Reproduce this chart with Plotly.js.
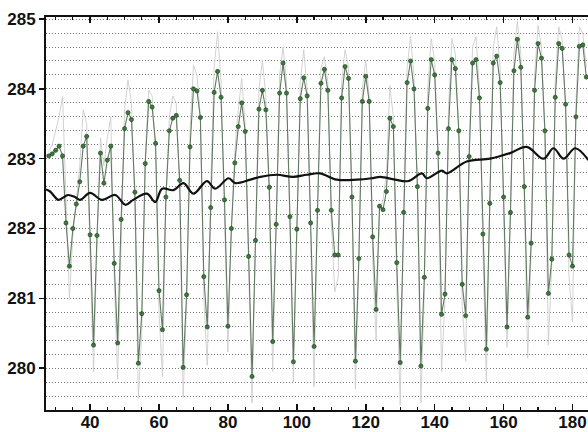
<!DOCTYPE html>
<html>
<head>
<meta charset="utf-8">
<script src="https://cdn.plot.ly/plotly-3.0.1.min.js"></script>
<style>html,body{margin:0;padding:0;background:#fff;}#chart{width:588px;height:432px;}</style>
</head>
<body>
<div id="chart"></div>
<script>
// x positions of the sampled series (integer steps)
var xStart = 28, xEnd = 184;
var sampleX = [];
for (var i = xStart; i <= xEnd; i++) sampleX.push(i);

// green series with markers (x = 28 .. 184)
var greenY = [
283.04,283.07,283.12,283.18,283.04,282.08,281.46,282.00,282.35,282.67,
283.18,283.32,281.91,280.33,281.90,283.08,282.65,282.98,283.18,281.50,
280.36,282.13,283.43,283.66,283.56,282.52,280.07,280.78,282.93,283.82,
283.74,283.22,281.11,280.55,282.45,283.40,283.58,283.62,282.69,280.01,
281.05,283.17,284.00,283.97,283.59,281.31,280.59,282.30,283.95,284.25,
283.88,282.41,280.60,282.00,282.94,283.46,283.80,283.39,281.60,279.88,
281.83,283.71,283.98,283.70,282.59,280.38,282.06,283.94,284.37,283.94,
282.17,280.09,281.99,283.86,284.16,283.90,282.08,280.31,282.26,284.08,
284.28,283.98,282.26,281.62,281.62,283.87,284.32,284.15,282.45,280.10,
281.57,283.82,284.18,283.82,281.88,280.84,282.32,282.27,282.53,283.58,
283.46,281.51,280.08,282.23,284.09,284.40,284.00,282.60,280.03,281.30,
283.72,284.42,284.20,283.08,280.77,281.06,283.43,284.42,284.29,283.40,
281.20,280.75,283.03,284.37,284.42,283.87,281.92,280.27,282.36,284.37,
284.47,284.09,282.45,280.59,282.23,284.26,284.71,284.31,282.60,280.73,
281.79,283.98,284.65,284.44,283.40,281.07,281.56,283.88,284.65,284.58,
283.78,281.62,281.46,283.60,284.61,284.63,284.17
];

// light gray series (x = 28 .. 184)
var grayY = [
283.10,283.20,283.40,283.60,283.89,282.30,281.00,281.90,282.40,282.90,
283.70,283.50,281.60,279.95,281.80,283.30,282.90,283.30,283.60,281.30,
279.84,282.00,283.70,284.13,283.80,282.30,279.57,280.50,283.00,283.98,
283.90,283.10,280.80,279.88,282.40,283.60,283.90,283.80,282.50,279.58,
280.90,283.40,284.34,284.20,283.60,281.00,280.04,282.60,284.30,284.82,
284.10,282.20,280.23,282.00,283.10,283.70,284.15,283.50,281.30,279.50,
281.80,284.00,284.41,283.90,282.40,279.95,282.10,284.20,284.60,284.10,
282.00,279.80,281.90,284.10,284.56,284.00,281.90,279.73,282.30,284.30,
284.46,284.10,282.10,281.09,281.30,284.10,284.56,284.30,282.30,279.70,
281.50,284.00,284.41,283.90,281.60,280.40,282.30,282.40,282.80,284.05,
283.60,281.20,279.47,282.30,284.30,284.75,284.20,282.50,279.50,281.10,
284.00,284.72,284.40,283.00,279.95,281.00,283.70,284.72,284.50,283.40,
280.90,280.10,283.20,284.60,284.75,284.00,281.70,279.80,282.40,284.60,
284.89,284.30,282.30,280.30,282.30,284.50,284.97,284.50,282.50,280.14,
281.70,284.20,284.91,284.60,283.30,280.33,281.50,284.10,284.89,284.70,
283.70,281.30,280.66,283.80,284.89,284.80,284.30
];

// black smooth line
var blackX = [27.2,28.4,30.8,32.1,33.6,35.6,37.1,40.0,43.4,47.3,50.2,52.5,56.5,58.9,60.9,64.2,67.1,70.0,73.9,76.3,80.2,82.1,86.5,89.4,94.2,98.9,102.9,106.7,111.6,117.4,121.7,124.2,128.5,132.4,136.3,137.7,142.1,143.5,149.3,156.1,161.9,166.7,171.6,174.5,177.4,180.8,184.6];
var blackY = [282.56,282.53,282.41,282.44,282.48,282.45,282.41,282.51,282.41,282.48,282.34,282.41,282.50,282.38,282.57,282.55,282.65,282.50,282.68,282.57,282.72,282.65,282.70,282.74,282.77,282.74,282.77,282.79,282.70,282.70,282.72,282.74,282.70,282.68,282.79,282.72,282.83,282.79,282.96,283.00,283.08,283.17,283.00,283.15,283.00,283.15,282.98];

var xTickVals = [40,60,80,100,120,140,160,180];
var yTickVals = [280,281,282,283,284,285];

var tickFont = {family: 'Liberation Sans', size: 17, color: '#111', weight: 700};

var traces = [
  {x: sampleX, y: grayY, type: 'scatter', mode: 'lines',
   line: {color: '#cdcdcd', width: 0.9}, hoverinfo: 'skip'},
  {x: sampleX, y: greenY, type: 'scatter', mode: 'lines+markers',
   line: {color: '#627a62', width: 1.1},
   marker: {size: 4.2, color: '#3c7a3c', line: {color: '#1c3a1c', width: 0.6}}},
  {x: blackX, y: blackY, type: 'scatter', mode: 'lines',
   line: {color: '#111111', width: 2.2, shape: 'spline', smoothing: 1.0}}
];

var layout = {
  width: 588, height: 432,
  margin: {l: 46, r: 0, t: 17, b: 22, pad: 0},
  paper_bgcolor: '#ffffff', plot_bgcolor: '#ffffff',
  showlegend: false,
  xaxis: {
    range: [27.2, 184.5],
    tickvals: xTickVals,
    ticks: 'inside', ticklen: 6, tickwidth: 1.5, tickcolor: '#111',
    showline: true, linewidth: 2, linecolor: '#111', mirror: 'ticks',
    showgrid: false, zeroline: false,
    tickfont: tickFont,
    ticklabelstandoff: -4,
    minor: {dtick: 5, tick0: 0, ticks: 'inside', ticklen: 3, tickwidth: 1.2, tickcolor: '#111', showgrid: false}
  },
  yaxis: {
    range: [279.4, 285.03],
    tickvals: yTickVals,
    ticks: 'outside', ticklen: 5, tickwidth: 1.5, tickcolor: '#111',
    showline: true, linewidth: 2, linecolor: '#111',
    showgrid: true, gridcolor: '#7a7a7a', gridwidth: 1, griddash: '1px,2px',
    zeroline: false,
    tickfont: tickFont,
    minor: {dtick: 0.2, tick0: 0, ticks: '', showgrid: true, gridcolor: '#7a7a7a', gridwidth: 1, griddash: '1px,2px'}
  }
};

Plotly.newPlot('chart', traces, layout, {staticPlot: true, displayModeBar: false});
</script>
</body>
</html>
